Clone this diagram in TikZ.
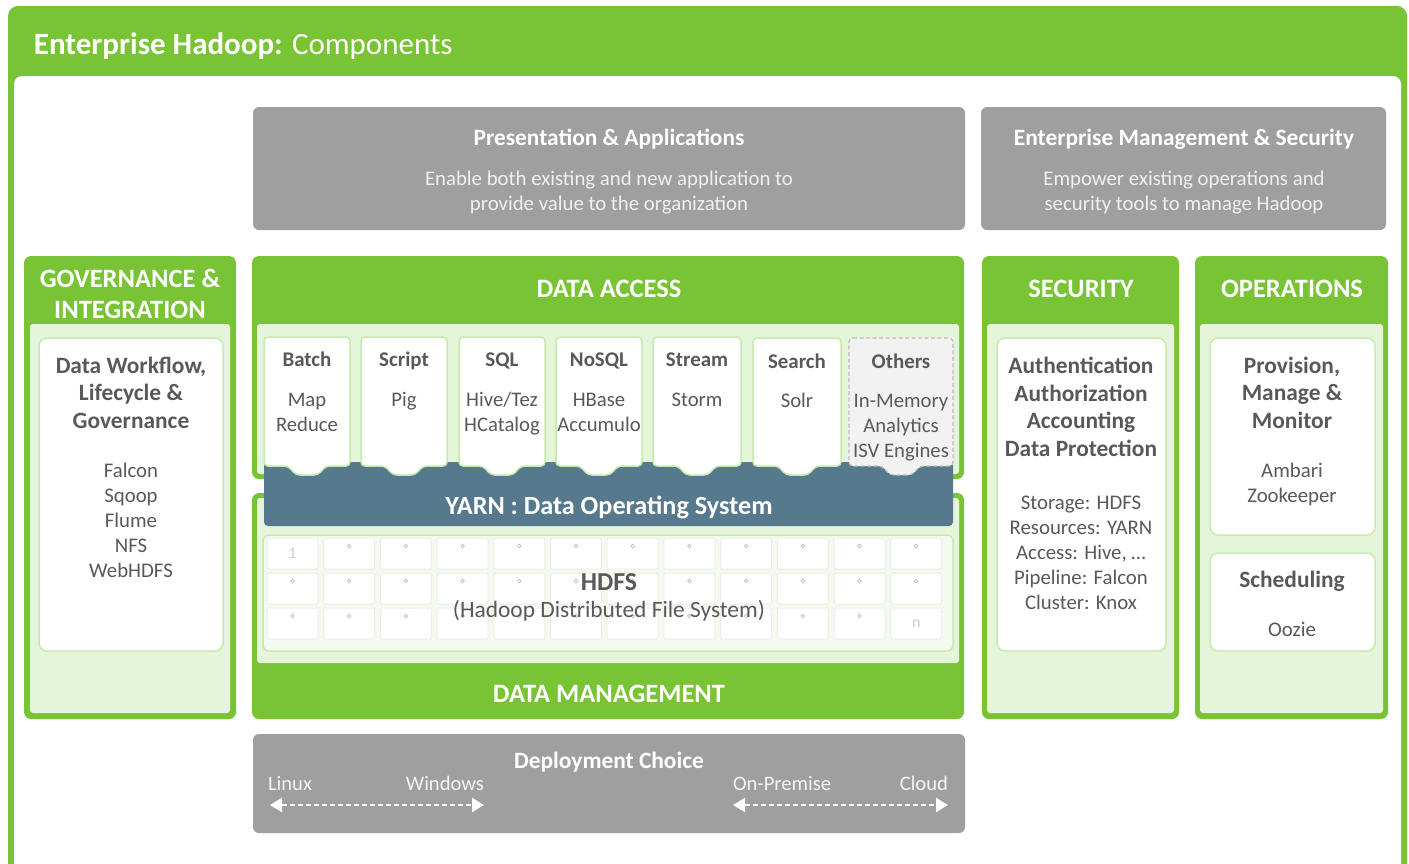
\documentclass[tikz,border=0pt]{standalone}
\usepackage{fontspec}
\setmainfont{Carlito}
\usetikzlibrary{arrows.meta,fit}
\definecolor{hgreen}{HTML}{79C434}
\definecolor{lgreen}{HTML}{E4F5DA}
\definecolor{cborder}{HTML}{C6E9AE}
\definecolor{hgray}{HTML}{9F9F9F}
\definecolor{yarnc}{HTML}{56798E}
\definecolor{dtext}{HTML}{595959}
\definecolor{hdfsbg}{HTML}{F4FAF0}
\definecolor{cellb}{HTML}{ECEFE9}
\definecolor{ringc}{HTML}{BDBDBD}
\definecolor{othbg}{HTML}{F2F2F2}
\definecolor{othb}{HTML}{BDBDBD}
\tikzset{
  every node/.style={inner sep=0pt, outer sep=0pt},
  panel/.style={fill=hgreen, rounded corners=7pt, inner sep=0pt},
  innerarea/.style={fill=lgreen, rounded corners=3pt, inner sep=0pt},
  wbox/.style={fill=white, draw=cborder, line width=1.5pt, rounded corners=8pt, inner sep=0pt},
  graybox/.style={fill=hgray, rounded corners=6pt, inner sep=0pt},
  ptitle/.style={text=white, font=\bfseries\fontsize{26.5}{31}\selectfont, align=center, anchor=base},
  graytitle/.style={text=white, font=\bfseries\fontsize{23.4}{25}\selectfont, align=center, anchor=base},
  graysub/.style={text=white!94!black, font=\fontsize{20.8}{25}\selectfont, align=center, anchor=base},
  btext/.style={text=dtext, font=\bfseries\fontsize{23.4}{27.5}\selectfont, align=center, anchor=base},
  rtext/.style={text=dtext, font=\fontsize{20.8}{25}\selectfont, align=center, anchor=base},
  chead/.style={text=dtext, font=\bfseries\fontsize{20.9}{25}\selectfont, align=center, anchor=base},
  cbody/.style={text=dtext, font=\fontsize{20.7}{25}\selectfont, align=center, anchor=base},
  cardpath/.style={fill=white, draw=cborder, line width=1.5pt, rounded corners=4pt},
  othpath/.style={fill=othbg, draw=othb, line width=1.2pt, dash pattern=on 4pt off 2.5pt, rounded corners=4pt},
  cellbox/.style={fill=white, draw=cellb, line width=1pt, rounded corners=2pt, inner sep=0pt},
  ring/.style={draw=ringc, line width=0.7pt, circle, minimum size=3.6pt, inner sep=0pt},
  celltxt/.style={text=black!20, font=\fontsize{16}{18}\selectfont},
  deparrow/.style={draw=white, line width=2pt, dash pattern=on 5pt off 3pt,
     {Triangle[width=14pt,length=12pt,fill=white]}-{Triangle[width=14pt,length=12pt,fill=white]}},
  deptext/.style={text=white!96!black, font=\fontsize{20.6}{24}\selectfont},
}
\newcommand\mycard[5]{% #1 name, #2 x0, #3 x1, #4 style, #5 top
  \pgfmathsetmacro\mycx{(#2+#3)/2}
  \node[inner sep=0pt, fit={(#2,#5) (#3,466)}] (#1) {};
  \draw[#4] (#2,#5) -- (#3,#5) -- (#3,466) -- (\mycx+19,466) -- (\mycx+11,475)
     -- (\mycx-11,475) -- (\mycx-19,466) -- (#2,466) -- cycle;
}
\begin{document}
\begin{tikzpicture}[x=1pt,y=-1pt]
\useasboundingbox (0,0) rectangle (1409,863);
\clip (0,0) rectangle (1409,863);
\fill[white] (0,0) rectangle (1409,863);
% frame
\node[fill=hgreen, rounded corners=10pt, fit={(8,6) (1407,900)}] (frame) {};
\node[fill=white, rounded corners=8pt, fit={(14,76) (1401,895)}] (canvas) {};
\node[anchor=base west, text=white, font=\fontsize{31}{33}\selectfont] (title) at (34,54)
  {\textbf{Enterprise Hadoop:} Components};
% top gray boxes
\node[graybox, fit={(253,107) (965,230)}] (pres) {};
\node[graytitle] (presT) at (609,145) {Presentation \& Applications};
\node[graysub] (presS) at (609,210) {Enable both existing and new application to\\provide value to the organization};
\node[graybox, fit={(981,107) (1386,230)}] (ems) {};
\node[graytitle] (emsT) at (1184,145) {Enterprise Management \& Security};
\node[graysub] (emsS) at (1184,210) {Empower existing operations and\\security tools to manage Hadoop};
% governance
\node[panel, fit={(24,256) (236,719)}] (gov) {};
\node[innerarea, fit={(30,324) (230,713)}] (govIn) {};
\node[wbox, fit={(39,338) (223,651)}] (govBox) {};
\node[ptitle] (govT) at (130,318) {GOVERNANCE \&\\INTEGRATION};
\node[btext] (govH) at (131,428) {Data Workflow,\\Lifecycle \&\\Governance};
\node[rtext] (govL) at (131,577) {Falcon\\Sqoop\\Flume\\NFS\\WebHDFS};
% security
\node[panel, fit={(982,256) (1179,719)}] (sec) {};
\node[innerarea, fit={(987,324) (1174,713)}] (secIn) {};
\node[wbox, fit={(997,338) (1166,651)}] (secBox) {};
\node[ptitle] (secT) at (1081,297) {SECURITY};
\node[btext] (secH) at (1081,456) {Authentication\\Authorization\\Accounting\\Data Protection};
\node[rtext] (secL) at (1081,609) {Storage: HDFS\\Resources: YARN\\Access: Hive, …\\Pipeline: Falcon\\Cluster: Knox};
% operations
\node[panel, fit={(1195,256) (1388,719)}] (ops) {};
\node[innerarea, fit={(1200,324) (1383,713)}] (opsIn) {};
\node[wbox, fit={(1210,338) (1375,535)}] (opsBox1) {};
\node[wbox, fit={(1210,553) (1375,651)}] (opsBox2) {};
\node[ptitle] (opsT) at (1292,297) {OPERATIONS};
\node[btext] (opsH) at (1292,428) {Provision,\\Manage \&\\Monitor};
\node[rtext] (opsL) at (1292,502) {Ambari\\Zookeeper};
\node[btext] (schH) at (1292,587) {Scheduling};
\node[rtext] (schL) at (1292,636) {Oozie};
% data access
\node[panel, fit={(252,256) (964,479)}] (da) {};
\node[innerarea, fit={(257,324) (959,474)}] (daIn) {};
\node[ptitle] (daT) at (609,297) {DATA ACCESS};
% data management
\node[panel, fit={(252,493) (964,719)}] (dm) {};
\node[innerarea, fit={(257,498) (959,663)}] (dmIn) {};
\node[fill=hdfsbg, draw=cborder, line width=1.5pt, rounded corners=6pt, fit={(263,535) (953,651)}] (hdfs) {};
\foreach \j in {0,1,2}{
  \foreach \i in {0,...,11}{
    \pgfmathsetmacro\xa{267+\i*56.7}
    \pgfmathsetmacro\ya{538+\j*35}
    \node[cellbox, fit={(\xa,\ya) (\xa+51,\ya+31)}] (c-\i-\j) {};
  }
}
\foreach \j in {0,1,2}{
  \foreach \i in {0,...,11}{
    \pgfmathsetmacro\xc{292.5+\i*56.7}
    \pgfmathsetmacro\yc{546+\j*35}
    \ifnum\i\j=00 \else\ifnum\i\j=112 \else
      \node[ring] (r-\i-\j) at (\xc,\yc) {};
    \fi\fi
  }
}
\node[celltxt] (one) at (c-0-0) {1};
\node[celltxt] (enn) at (c-11-2) {n};
\node[text=dtext, font=\bfseries\fontsize{25.8}{27}\selectfont, anchor=base] (hdfsT) at (609,590) {HDFS};
\node[text=dtext, font=\fontsize{23.4}{25}\selectfont, anchor=base] (hdfsS) at (609,617) {(Hadoop Distributed File System)};
\node[ptitle] (dmT) at (609,702) {DATA MANAGEMENT};
% yarn
\node[fill=yarnc, rounded corners=4pt, fit={(264,462) (953,526)}] (yarn) {};
\node[text=white, font=\bfseries\fontsize{26.2}{27}\selectfont, anchor=base] (yarnT) at (609,514) {YARN : Data Operating System};
% cards
\mycard{batch}{264}{350}{cardpath}{337}
\mycard{script}{361}{447}{cardpath}{337}
\mycard{sql}{459}{545}{cardpath}{337}
\mycard{nosql}{556}{642}{cardpath}{337}
\mycard{stream}{653}{741}{cardpath}{337}
\mycard{search}{753}{841}{cardpath}{338}
\mycard{others}{849}{953}{othpath}{338}
\node[chead] (batchH) at (307,366) {Batch};
\node[cbody] (batchB) at (307,431) {Map\\Reduce};
\node[chead] (scriptH) at (404,366) {Script};
\node[cbody] (scriptB) at (404,406) {Pig};
\node[chead] (sqlH) at (502,366) {SQL};
\node[cbody] (sqlB) at (502,431) {Hive/Tez\\HCatalog};
\node[chead] (nosqlH) at (599,366) {NoSQL};
\node[cbody] (nosqlB) at (599,431) {HBase\\Accumulo};
\node[chead] (streamH) at (697,366) {Stream};
\node[cbody] (streamB) at (697,406) {Storm};
\node[chead] (searchH) at (797,368) {Search};
\node[cbody] (searchB) at (797,407) {Solr};
\node[chead] (othersH) at (901,368) {Others};
\node[cbody] (othersB) at (901,457) {In-Memory\\Analytics\\ISV Engines};
% deployment
\node[graybox, fit={(253,734) (965,833)}] (dep) {};
\node[graytitle] (depT) at (609,768) {Deployment Choice};
\node[deptext, anchor=base west] (linux) at (268,790) {Linux};
\node[deptext, anchor=base east] (windows) at (484,790) {Windows};
\node[deptext, anchor=base west] (onprem) at (733,790) {On-Premise};
\node[deptext, anchor=base east] (cloud) at (948,790) {Cloud};
\coordinate (a1) at (270,805);
\coordinate (a2) at (484,805);
\coordinate (b1) at (733,805);
\coordinate (b2) at (948,805);
\draw[deparrow] (a1) -- (a2);
\draw[deparrow] (b1) -- (b2);
\end{tikzpicture}
\end{document}
